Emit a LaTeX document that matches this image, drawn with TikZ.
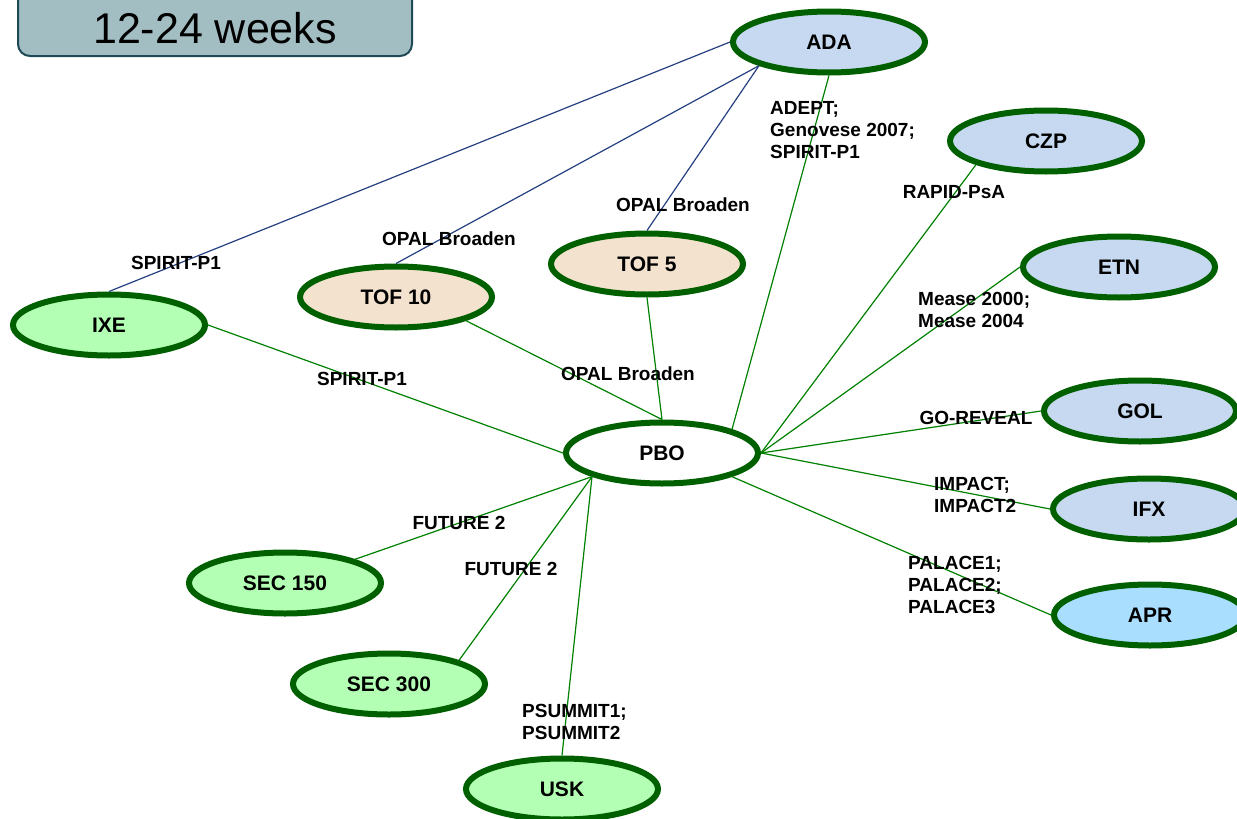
\documentclass[tikz,border=0pt]{standalone}
\usepackage{fontspec}
\setmainfont{Liberation Sans}
\usepackage{xcolor}
\usepackage{tikz}
\usetikzlibrary{positioning,shapes}

\definecolor{ringGreen}{RGB}{0,96,0}
\definecolor{edgeGreen}{RGB}{0,128,0}
\definecolor{edgeBlue}{RGB}{36,64,128}
\definecolor{drugBlue}{RGB}{198,217,240}
\definecolor{drugGreen}{RGB}{179,255,179}
\definecolor{drugTan}{RGB}{243,226,206}
\definecolor{drugSky}{RGB}{170,222,255}
\definecolor{boxFill}{RGB}{163,190,195}
\definecolor{boxLine}{RGB}{29,74,85}

\begin{document}
\begin{tikzpicture}[x=1pt,y=-1pt,
		drug/.style={ellipse, draw=ringGreen, line width=6pt, minimum width=192pt, minimum height=61pt,
		font=\fontsize{21}{24}\selectfont\bfseries},
		trial/.style={inner sep=0pt, align=left, font=\fontsize{19}{22}\selectfont\bfseries},
		link/.style={edgeGreen, line width=1.2pt},
		oldlink/.style={edgeBlue, line width=1.2pt}]

		\useasboundingbox (0,0) rectangle (1237,819);

		\draw[boxLine, line width=2pt, fill=boxFill, rounded corners=12pt] (18,-60) rectangle (412,56);
		\node[font=\fontsize{43}{50}\selectfont] (weeks) at (215,28) {12-24 weeks};

		\node[drug, fill=drugBlue] (ada) at (829,42) {ADA};
		\node[drug, fill=drugBlue] (czp) at (1046,141) {CZP};
		\node[drug, fill=drugBlue] (etn) at (1119,267) {ETN};
		\node[drug, fill=drugBlue] (gol) at (1140,411) {GOL};
		\node[drug, fill=drugBlue] (ifx) at (1149,509) {IFX};
		\node[drug, fill=drugSky] (apr) at (1150,615) {APR};
		\node[drug, fill=white] (pbo) at (662,453) {PBO};
		\node[drug, fill=drugTan] (tof5) at (647,264) {TOF 5};
		\node[drug, fill=drugTan] (tof10) at (396,297) {TOF 10};
		\node[drug, fill=drugGreen] (ixe) at (109,325) {IXE};
		\node[drug, fill=drugGreen] (sec150) at (285,583) {SEC 150};
		\node[drug, fill=drugGreen] (sec300) at (389,684) {SEC 300};
		\node[drug, fill=drugGreen] (usk) at (562,789) {USK};

		\draw[oldlink] (ada.west) -- (ixe.north);
		\draw[oldlink] (ada.south west) -- (tof10.north);
		\draw[oldlink] (ada.south west) -- (tof5.north);

		\draw[link] (pbo.north east) -- (ada.south);
		\foreach \n/\a in {czp/south west, etn/west, gol/west, ifx/west}{
			\draw[link] (pbo.east) -- (\n.\a);
		}
		\draw[link] (pbo.south east) -- (apr.west);
		\foreach \n/\a in {sec150/north east, sec300/north east, usk/north}{
			\draw[link] (pbo.south west) -- (\n.\a);
		}
		\draw[link] (pbo.west) -- (ixe.east);
		\draw[link] (pbo.north) -- (tof10.south east);
		\draw[link] (pbo.north) -- (tof5.south);

		\node[trial, anchor=west] (adaTrials) at (770,130) {ADEPT;\\Genovese 2007;\\SPIRIT-P1};
		\node[trial] (czpTrials) at (954,192) {RAPID-PsA};
		\node[trial, anchor=west] (etnTrials) at (918,310) {Mease 2000;\\Mease 2004};
		\node[trial] (golTrials) at (976,418) {GO-REVEAL};
		\node[trial, anchor=west] (ifxTrials) at (934,495) {IMPACT;\\IMPACT2};
		\node[trial, anchor=west] (aprTrials) at (908,585) {PALACE1;\\PALACE2;\\PALACE3};
		\node[trial, anchor=west] (uskTrials) at (522,722) {PSUMMIT1;\\PSUMMIT2};
		\node[trial] (sec150Trial) at (459,523) {FUTURE 2};
		\node[trial] (sec300Trial) at (511,569) {FUTURE 2};
		\node[trial] (tof5Old) at (683,205) {OPAL Broaden};
		\node[trial] (tof10Old) at (449,239) {OPAL Broaden};
		\node[trial] (tofTrial) at (628,374) {OPAL Broaden};
		\node[trial] (ixeOld) at (176,263) {SPIRIT-P1};
		\node[trial] (ixeTrial) at (362,379) {SPIRIT-P1};
	\end{tikzpicture}
\end{document}
